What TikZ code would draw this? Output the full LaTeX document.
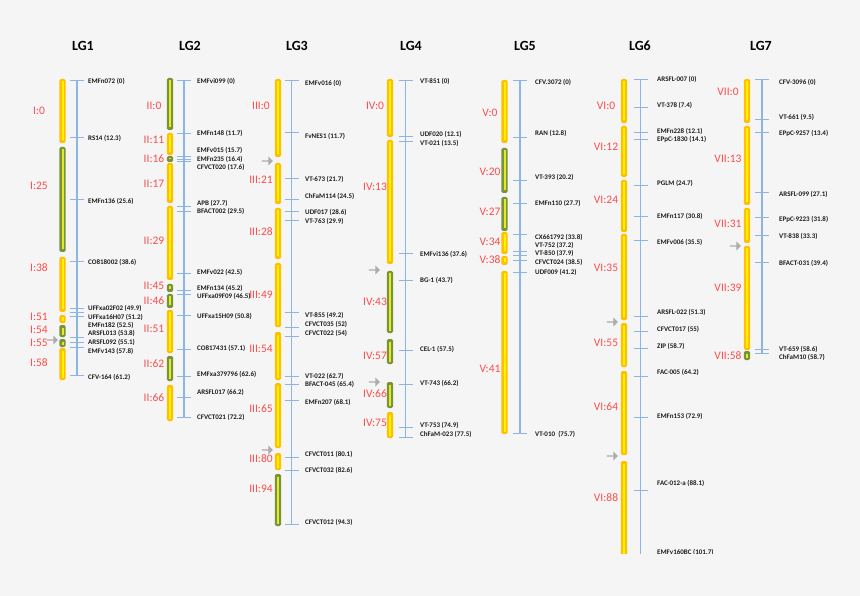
\documentclass[tikz,border=0pt]{standalone}
\usepackage{fontspec}
\setmainfont{Carlito}
\usetikzlibrary{shapes.arrows}

\definecolor{bgc}{HTML}{F5F5F5}
\definecolor{bary}{HTML}{FFC000}
\definecolor{stry}{HTML}{FFF200}
\definecolor{barg}{HTML}{77933C}
\definecolor{strg}{HTML}{E8E81E}
\definecolor{axisc}{HTML}{8EB4E3}
\definecolor{redc}{HTML}{FF4B4B}
\definecolor{txtc}{HTML}{1E1E1E}

% one chromosome segment: colour key (y/g), x, top, bottom
\newcommand{\chrseg}[4]{%
  \fill[fill=bar#1, rounded corners=1.5pt] (#2-3.2,#3) rectangle (#2+3.2,#4);
  \draw[draw=str#1, line width=2pt] (#2,#3+2.5) -- (#2,#4-2.5);}

\begin{document}
\begin{tikzpicture}[x=1pt, y=-1pt,
    title/.style={font=\fontsize{14}{16}\selectfont\bfseries, text=black},
    seglabel/.style={font=\fontsize{11.5}{13}\selectfont, text=redc, inner sep=0pt},
    mlabel/.style={font=\fontsize{7}{8}\selectfont\bfseries, text=txtc, anchor=west, inner sep=0pt},
    axisline/.style={draw=axisc, line width=1.2pt},
    tickline/.style={draw=axisc, line width=1pt},
    qtl/.style={single arrow, fill=gray!65, minimum height=11pt, minimum width=9pt, single arrow head extend=1.5pt, inner sep=0pt}
]
\useasboundingbox (0,0) rectangle (860,596);
\fill[bgc] (0,0) rectangle (860,596);
\fill[gray!8] (0,553) rectangle (860,596);

\begin{scope}
\clip (0,0) rectangle (860,553);

% LG1
\def\ax{77}\def\bx{62.5}\def\lx{88}\def\rx{39}
\node[title] (lg1) at (83,46) {LG1};
\draw[axisline] (\ax,80.7) -- (\ax,375);
\foreach \c/\a/\b in {y/79/143, g/147/252, y/257/312, y/315/323, g/325/337, g/339/347, y/348/380}
  {\chrseg{\c}{\bx}{\a}{\b}}
\foreach \y/\s [count=\i] in {111/I:0, 186/I:25, 268/I:38, 317/I:51, 330/I:54, 343/I:55, 363/I:58}
  \node[seglabel] (lg1s\i) at (\rx,\y) {\s};
\foreach \t/\l/\s [count=\i] in {80.7/81/{EMFn072 (0)}, 138/138/{RS14 (12.3)}, 200/201/{EMFn136 (25.6)},
    262/262/{CO818002 (38.6)}, 309/308/{UFFxa02F02 (49.9)}, 313/317/{UFFxa16H07 (51.2)},
    317/325/{EMFn182 (52.5)}, 337/333/{ARSFL013 (53.8)}, 342/342/{ARSFL092 (55.1)},
    347/351/{EMFv143 (57.8)}, 375/377/{CFV-164 (61.2)}}
  {\draw[tickline] (\ax-7,\t) -- (\ax+7,\t);
   \node[mlabel] (lg1m\i) at (\lx,\l) {\s};}
\node[qtl] (lg1q1) at (52,340) {};

% LG2
\def\ax{184}\def\bx{170}\def\lx{197}\def\rx{154}
\node[title] (lg2) at (190,46) {LG2};
\draw[axisline] (\ax,81) -- (\ax,417);
\foreach \c/\a/\b in {g/78/130, y/133/155, g/156/162, y/163/203, y/206/280, g/284/292, g/294/308,
    y/310/353, g/356/381, y/385/421}
  {\chrseg{\c}{\bx}{\a}{\b}}
\foreach \y/\s [count=\i] in {106/II:0, 140/II:11, 159/II:16, 184/II:17, 241/II:29, 286/II:45,
    301/II:46, 329/II:51, 364/II:62, 398/II:66}
  \node[seglabel] (lg2s\i) at (\rx,\y) {\s};
\foreach \t/\l/\s [count=\i] in {81/81/{EMFvi099 (0)}, 134/133/{EMFn148 (11.7)}, 157/150/{EMFv015 (15.7)},
    159.5/159/{EMFn235 (16.4)}, 162/167/{CFVCT020 (17.6)}, 207/203/{APB (27.7)}, 212/211/{BFACT002 (29.5)},
    274/272/{EMFv022 (42.5)}, 291/288/{EMFn134 (45.2)}, 294.5/296/{UFFxa09F09 (46.5)},
    316/316/{UFFxa15H09 (50.8)}, 349/348/{CO817431 (57.1)}, 376/374/{EMFxa379796 (62.6)},
    397/392/{ARSFL017 (66.2)}, 417/417/{CFVCT021 (72.2)}}
  {\draw[tickline] (\ax-7,\t) -- (\ax+7,\t);
   \node[mlabel] (lg2m\i) at (\lx,\l) {\s};}

% LG3
\def\ax{291.7}\def\bx{278}\def\lx{305}\def\rx{261}
\node[title] (lg3) at (297,46) {LG3};
\draw[axisline] (\ax,81) -- (\ax,524);
\foreach \c/\a/\b in {y/79/157, y/163/204, y/208/259, y/263/327, y/332/380, y/383/448, y/453/470, g/474/526}
  {\chrseg{\c}{\bx}{\a}{\b}}
\foreach \y/\s [count=\i] in {106/III:0, 180/III:21, 232/III:28, 295/III:49, 349/III:54, 409/III:65,
    459/III:80, 489/III:94}
  \node[seglabel] (lg3s\i) at (\rx,\y) {\s};
\foreach \t/\l/\s [count=\i] in {81/83/{EMFv016 (0)}, 133/136/{FvNES1 (11.7)}, 179/179/{VT-673 (21.7)},
    200/196/{ChFaM114 (24.5)}, 212/212/{UDF017 (28.6)}, 221/221/{VT-763 (29.9)}, 313/315/{VT-855 (49.2)},
    327/324/{CFVCT035 (52)}, 336/333/{CFVCT022 (54)}, 376/376/{VT-022 (62.7)}, 384/384/{BFACT-045 (65.4)},
    400/402/{EMFn207 (68.1)}, 457/454/{CFVCT011 (80.1)}, 470/470/{CFVCT032 (82.6)}, 524/522/{CFVCT012 (94.3)}}
  {\draw[tickline] (\ax-7,\t) -- (\ax+7,\t);
   \node[mlabel] (lg3m\i) at (\lx,\l) {\s};}
\node[qtl] (lg3q1) at (267,161) {};
\node[qtl] (lg3q2) at (267,450) {};

% LG4
\def\ax{405.7}\def\bx{390}\def\lx{420}\def\rx{375}
\node[title] (lg4) at (411,46) {LG4};
\draw[axisline] (\ax,81) -- (\ax,437);
\foreach \c/\a/\b in {y/79/137, y/140/264, g/271/333, g/339/364, g/382/408, y/412/438}
  {\chrseg{\c}{\bx}{\a}{\b}}
\foreach \y/\s [count=\i] in {106/IV:0, 187/IV:13, 302/IV:43, 356/IV:57, 394/IV:66, 423/IV:75}
  \node[seglabel] (lg4s\i) at (\rx,\y) {\s};
\foreach \t/\l/\s [count=\i] in {81/81/{VT-851 (0)}, 137/134/{UDF020 (12.1)}, 142/143/{VT-021 (13.5)},
    254/254/{EMFvi136 (37.6)}, 281/280/{BG-1 (43.7)}, 350/349/{CEL-1 (57.5)}, 384/383/{VT-743 (66.2)},
    427/425/{VT-753 (74.9)}, 437/434/{ChFaM-023 (77.5)}}
  {\draw[tickline] (\ax-7,\t) -- (\ax+7,\t);
   \node[mlabel] (lg4m\i) at (\lx,\l) {\s};}
\node[qtl] (lg4q1) at (374,270) {};
\node[qtl] (lg4q2) at (374,382) {};

% LG5
\def\ax{520}\def\bx{504.5}\def\lx{535}\def\rx{490}
\node[title] (lg5) at (525,46) {LG5};
\draw[axisline] (\ax,81) -- (\ax,433);
\foreach \c/\a/\b in {y/80/143, g/148/193, g/197/231, y/232/254, y/256/265, y/271/434}
  {\chrseg{\c}{\bx}{\a}{\b}}
\foreach \y/\s [count=\i] in {113/V:0, 172/V:20, 212/V:27, 242/V:34, 260/V:38, 369/V:41}
  \node[seglabel] (lg5s\i) at (\rx,\y) {\s};
\foreach \t/\l/\s [count=\i] in {81/82/{CFV.3072 (0)}, 138/133/{RAN (12.8)}, 181/177/{VT-393 (20.2)},
    204/203/{EMFn110 (27.7)}, 235/237/{CX661792 (33.8)}, 252/245/{VT-752 (37.2)}, 256/253/{VT-850 (37.9)},
    261/262/{CFVCT024 (38.5)}, 273/272/{UDF009 (41.2)}, 433/434/{VT-010 \ (75.7)}}
  {\draw[tickline] (\ax-7,\t) -- (\ax+7,\t);
   \node[mlabel] (lg5m\i) at (\lx,\l) {\s};}

% LG6
\def\ax{640.7}\def\bx{624}\def\lx{657}\def\rx{606}
\node[title] (lg6) at (640,46) {LG6};
\draw[axisline] (\ax,80) -- (\ax,560);
\foreach \c/\a/\b in {y/79/123, y/126/177, y/180/232, y/234/320, y/323/367, y/371/455, y/461/570}
  {\chrseg{\c}{\bx}{\a}{\b}}
\foreach \y/\s [count=\i] in {106/VI:0, 147/VI:12, 200/VI:24, 268/VI:35, 343/VI:55, 407/VI:64, 498/VI:88}
  \node[seglabel] (lg6s\i) at (\rx,\y) {\s};
\foreach \t/\l/\s [count=\i] in {80/79/{ARSFL-007 (0)}, 108/105/{VT-378 (7.4)}, 133/131/{EMFn228 (12.1)},
    140/139/{EPpC-1830 (14.1)}, 186/183/{PGLM (24.7)}, 217/216/{EMFn117 (30.8)}, 241/242/{EMFv006 (35.5)},
    317/312/{ARSFL-022 (51.3)}, 331/329/{CFVCT017 (55)}, 348/346/{ZIP (58.7)}, 376/372/{FAC-005 (64.2)},
    417/416/{EMFn153 (72.9)}, 490/483/{FAC-012-a (88.1)}, 560/552/{EMFv160BC (101.7)}}
  {\draw[tickline] (\ax-7,\t) -- (\ax+7,\t);
   \node[mlabel] (lg6m\i) at (\lx,\l) {\s};}
\node[qtl] (lg6q1) at (612,322) {};
\node[qtl] (lg6q2) at (612,456) {};

% LG7
\def\ax{762}\def\bx{747}\def\lx{779}\def\rx{728}
\node[title] (lg7) at (761,46) {LG7};
\draw[axisline] (\ax,80) -- (\ax,353);
\foreach \c/\a/\b in {y/79/123, y/126/205, y/208/243, y/246/350, g/351/360}
  {\chrseg{\c}{\bx}{\a}{\b}}
\foreach \y/\s [count=\i] in {92/VII:0, 159/VII:13, 224/VII:31, 288/VII:39, 356/VII:58}
  \node[seglabel] (lg7s\i) at (\rx,\y) {\s};
\foreach \t/\l/\s [count=\i] in {80/82/{CFV-3096 (0)}, 120/117/{VT-661 (9.5)}, 133/133/{EPpC-9257 (13.4)},
    193/194/{ARSFL-099 (27.1)}, 218/219/{EPpC-9223 (31.8)}, 236/236/{VT-838 (33.3)},
    263/263/{BFACT-031 (39.4)}, 349/349/{VT-659 (58.6)}, 353/357/{ChFaM10 (58.7)}}
  {\draw[tickline] (\ax-7,\t) -- (\ax+7,\t);
   \node[mlabel] (lg7m\i) at (\lx,\l) {\s};}
\node[qtl] (lg7q1) at (735,246) {};

\end{scope}
\end{tikzpicture}
\end{document}
